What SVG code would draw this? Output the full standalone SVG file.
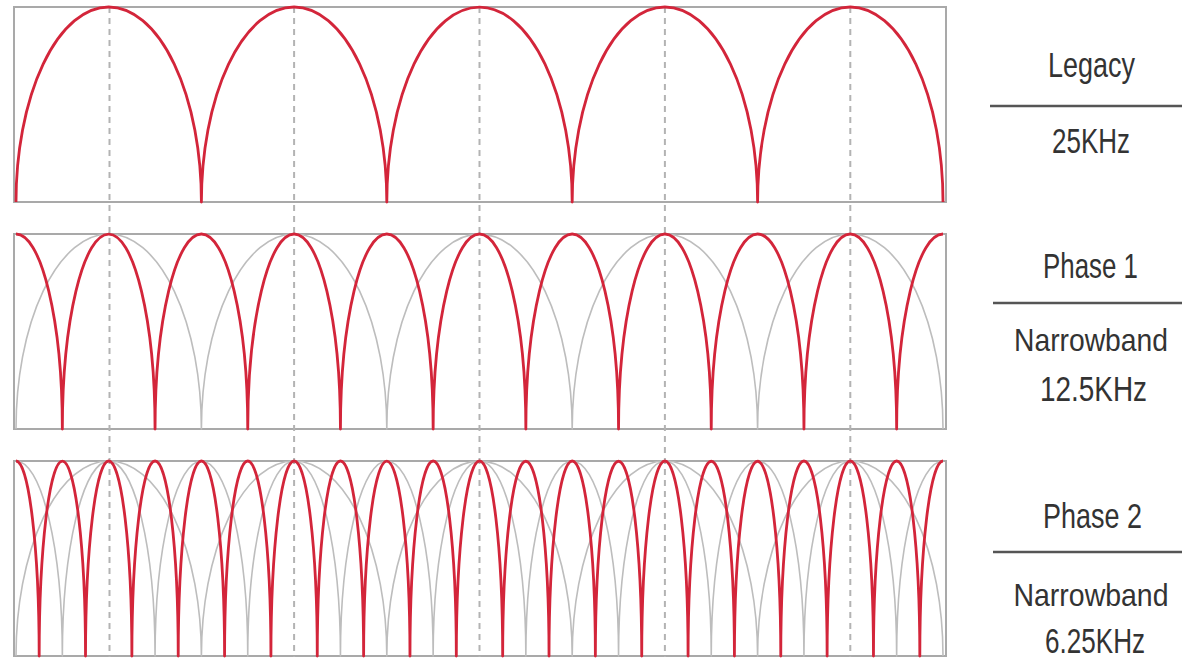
<svg xmlns="http://www.w3.org/2000/svg" width="1182" height="660" viewBox="0 0 1182 660">
<style>
.frame{fill:#fff;stroke:#a9a9a9;stroke-width:2}
.dash{stroke:#b3b3b3;stroke-width:2;stroke-dasharray:6 5;fill:none}
.grey{fill:none;stroke:#bdbdbd;stroke-width:1.6;stroke-linejoin:round}
.red{fill:none;stroke:#d3253a;stroke-width:2.8;stroke-linejoin:round}
.lbl{font-family:"Liberation Sans",Arial,sans-serif;font-size:35px;fill:#333;text-anchor:middle}
.nb{font-size:32px}
.rule{stroke:#555;stroke-width:2.5}
</style>
<rect width="1182" height="660" fill="#fff"/>
<g id="frames">
<rect class="frame" x="14" y="7" width="932" height="195"/>
<rect class="frame" x="14" y="234" width="932" height="195"/>
<rect class="frame" x="14" y="461" width="932" height="195"/>
</g>
<g id="guides">
<line class="dash" x1="109.5" y1="7" x2="109.5" y2="657"/>
<line class="dash" x1="294.1" y1="7" x2="294.1" y2="657"/>
<line class="dash" x1="479.5" y1="7" x2="479.5" y2="657"/>
<line class="dash" x1="664.9" y1="7" x2="664.9" y2="657"/>
<line class="dash" x1="850.3" y1="7" x2="850.3" y2="657"/>
</g>
<g id="legacy">
<path class="red" d="M16 202 a92.7 195 0 0 1 185.4 0 a92.7 195 0 0 1 185.4 0 a92.7 195 0 0 1 185.4 0 a92.7 195 0 0 1 185.4 0 a92.7 195 0 0 1 185.4 0"/>
</g>
<g id="phase1">
<path class="grey" d="M16 429 a92.7 195 0 0 1 185.4 0 a92.7 195 0 0 1 185.4 0 a92.7 195 0 0 1 185.4 0 a92.7 195 0 0 1 185.4 0 a92.7 195 0 0 1 185.4 0"/>
<path class="red" d="M16 234 a46.35 195 0 0 1 46.35 195 a46.35 195 0 0 1 92.7 0 a46.35 195 0 0 1 92.7 0 a46.35 195 0 0 1 92.7 0 a46.35 195 0 0 1 92.7 0 a46.35 195 0 0 1 92.7 0 a46.35 195 0 0 1 92.7 0 a46.35 195 0 0 1 92.7 0 a46.35 195 0 0 1 92.7 0 a46.35 195 0 0 1 92.7 0 a46.35 195 0 0 1 46.35 -195"/>
</g>
<g id="phase2">
<path class="grey" d="M16 656 a92.7 195 0 0 1 185.4 0 a92.7 195 0 0 1 185.4 0 a92.7 195 0 0 1 185.4 0 a92.7 195 0 0 1 185.4 0 a92.7 195 0 0 1 185.4 0"/>
<path class="grey" d="M16 461 a46.35 195 0 0 1 46.35 195 a46.35 195 0 0 1 92.7 0 a46.35 195 0 0 1 92.7 0 a46.35 195 0 0 1 92.7 0 a46.35 195 0 0 1 92.7 0 a46.35 195 0 0 1 92.7 0 a46.35 195 0 0 1 92.7 0 a46.35 195 0 0 1 92.7 0 a46.35 195 0 0 1 92.7 0 a46.35 195 0 0 1 92.7 0 a46.35 195 0 0 1 46.35 -195"/>
<path class="red" d="M16 461 a23.175 195 0 0 1 23.175 195 a23.175 195 0 0 1 46.35 0 a23.175 195 0 0 1 46.35 0 a23.175 195 0 0 1 46.35 0 a23.175 195 0 0 1 46.35 0 a23.175 195 0 0 1 46.35 0 a23.175 195 0 0 1 46.35 0 a23.175 195 0 0 1 46.35 0 a23.175 195 0 0 1 46.35 0 a23.175 195 0 0 1 46.35 0 a23.175 195 0 0 1 46.35 0 a23.175 195 0 0 1 46.35 0 a23.175 195 0 0 1 46.35 0 a23.175 195 0 0 1 46.35 0 a23.175 195 0 0 1 46.35 0 a23.175 195 0 0 1 46.35 0 a23.175 195 0 0 1 46.35 0 a23.175 195 0 0 1 46.35 0 a23.175 195 0 0 1 46.35 0 a23.175 195 0 0 1 46.35 0 a23.175 195 0 0 1 23.175 -195"/>
</g>
<g id="label-legacy">
<text class="lbl" x="1091.5" y="77" textLength="87" lengthAdjust="spacingAndGlyphs">Legacy</text>
<line class="rule" x1="990" y1="106" x2="1182" y2="106"/>
<text class="lbl" x="1091" y="153" textLength="78" lengthAdjust="spacingAndGlyphs">25KHz</text>
</g>
<g id="label-phase1">
<text class="lbl" x="1090.5" y="278" textLength="95" lengthAdjust="spacingAndGlyphs">Phase 1</text>
<line class="rule" x1="993" y1="303" x2="1182" y2="303" stroke="#707070"/>
<text class="lbl nb" x="1091" y="351" textLength="154" lengthAdjust="spacingAndGlyphs">Narrowband</text>
<text class="lbl" x="1093.5" y="401" textLength="107" lengthAdjust="spacingAndGlyphs">12.5KHz</text>
</g>
<g id="label-phase2">
<text class="lbl" x="1092.5" y="528" textLength="99" lengthAdjust="spacingAndGlyphs">Phase 2</text>
<line class="rule" x1="993" y1="552" x2="1182" y2="552" stroke="#707070"/>
<text class="lbl nb" x="1091" y="606" textLength="155" lengthAdjust="spacingAndGlyphs">Narrowband</text>
<text class="lbl" x="1095" y="653" textLength="100" lengthAdjust="spacingAndGlyphs">6.25KHz</text>
</g>
</svg>
